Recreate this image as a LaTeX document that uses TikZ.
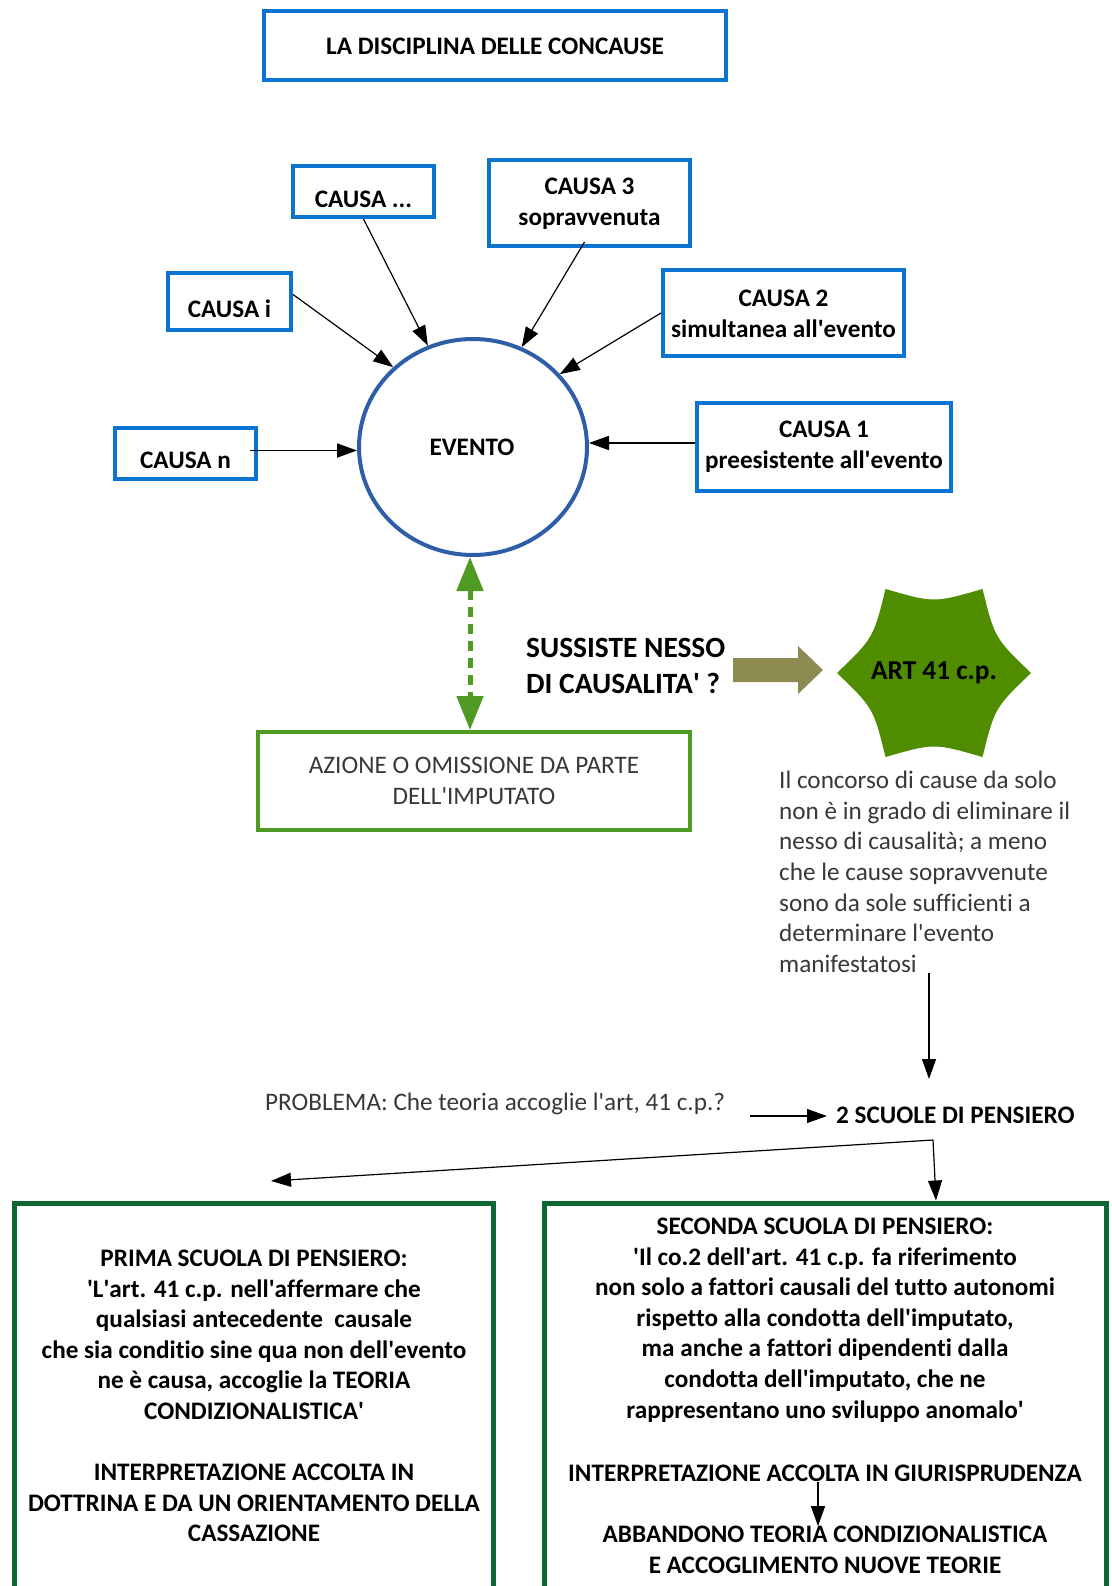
\documentclass[tikz,border=0pt]{standalone}
\usepackage{fontspec}
\setmainfont{Carlito}[Ligatures={TeX,NoCommon}]
\usetikzlibrary{shapes.geometric,arrows.meta,calc}
\definecolor{bbox}{HTML}{0A74D0}
\definecolor{evblue}{HTML}{2E5EA8}
\definecolor{lgreen}{HTML}{4E9A22}
\definecolor{olivec}{HTML}{8C8C52}
\definecolor{dgreen}{HTML}{0E6634}
\definecolor{stargreen}{HTML}{4F8C00}
\definecolor{txtgray}{HTML}{383838}
\newcommand{\sq}{\textquotesingle}
\newcommand{\fsn}{\fontsize{25.2}{30.6}\selectfont}
\begin{document}
\begin{tikzpicture}[x=1pt,y=-1pt,
  bluebox/.style={draw=bbox,line width=4pt,inner sep=0pt,anchor=center},
  btxt/.style={font=\bfseries\fsn,align=center,inner sep=0pt,anchor=center},
  ntxt/.style={font=\fsn,text=txtgray,inner sep=0pt},
  conn/.style={draw=black,line width=1.2pt,-{Triangle[length=20pt,width=14pt]}},
  gbox/.style={draw=dgreen,line width=5pt,inner sep=0pt,anchor=north},
]
\useasboundingbox[fill=white] (0,0) rectangle (1111,1586);

% title
\node[bluebox,minimum width=462,minimum height=69] (title) at (495,45.5) {};
\node[btxt] (titlet) at (495,46) {LA DISCIPLINA DELLE CONCAUSE};

% causes
\node[bluebox,minimum width=141,minimum height=51] (cdots) at (363.5,191.5) {};
\node[btxt] (cdotst) at (363.5,199) {CAUSA ...};
\node[bluebox,minimum width=201,minimum height=86] (c3) at (589.5,203) {};
\node[btxt] (c3t) at (589.5,203.5) {CAUSA 3\\sopravvenuta};
\node[bluebox,minimum width=123,minimum height=57] (ci) at (229.5,301.5) {};
\node[btxt] (cit) at (229.5,309) {CAUSA i};
\node[bluebox,minimum width=241,minimum height=86] (c2) at (783.5,313) {};
\node[btxt] (c2t) at (783.5,314) {CAUSA 2\\simultanea all\sq evento};
\node[bluebox,minimum width=141,minimum height=51] (cn) at (185.5,453.5) {};
\node[btxt] (cnt) at (185.5,460) {CAUSA n};
\node[bluebox,minimum width=254,minimum height=88] (c1) at (824,447) {};
\node[btxt] (c1t) at (824,446.5) {CAUSA 1\\preesistente all\sq evento};

% evento
\node[ellipse,draw=evblue,line width=4pt,minimum width=228,minimum height=216,inner sep=0pt] (ev) at (473,447) {};
\node[btxt] (evt) at (472,447) {EVENTO};

\draw[conn] (cdots.south) -- (ev.114);
\draw[conn] ($(c3.south)+(-5,-6)$) -- (ev.64);
\draw[conn] ($(ci.east)+(0,-7)$) -- (ev.135);
\draw[conn] (c2.west) -- (ev.40);
\draw[conn,line width=1.8pt] ($(cn.east)+(-8,-3)$) -- ($(cn.east -| ev.west)+(0,-3)$);
\draw[conn,line width=1.8pt] ($(c1.west)+(0,-4)$) -- ($(c1.west -| ev.east)+(0,-4)$);

% azione
\node[draw=lgreen,line width=4pt,minimum width=432,minimum height=98,inner sep=0pt] (az) at (474,781) {};
\node[ntxt,align=center] (azt) at (474,781) {AZIONE O OMISSIONE DA PARTE\\DELL\sq IMPUTATO};
\draw[draw=lgreen,line width=5pt,dash pattern=on 10pt off 7pt,
  {Triangle[length=34pt,width=26pt,fill=lgreen]}-{Triangle[length=34pt,width=26pt,fill=lgreen]}]
  ($(ev.south)+(-3,0)$) -- ($(az.north)+(-4,0)$);

% question
\node[font=\bfseries\fontsize{29.4}{36}\selectfont,align=left,inner sep=0pt,anchor=west] (q) at (526,666) {SUSSISTE NESSO\\DI CAUSALITA\sq{} ?};
\fill[olivec] (733,658) -- (798,658) -- (798,646) -- (823,670) -- (798,694) -- (798,682) -- (733,682) -- cycle;

% star
\coordinate (sc) at (934,673);
\fill[stargreen] ($(sc)+(0:97)$) .. controls ($(sc)+(30:70)$) .. ($(sc)+(60:97)$)
  .. controls ($(sc)+(90:70)$) .. ($(sc)+(120:97)$)
  .. controls ($(sc)+(150:70)$) .. ($(sc)+(180:97)$)
  .. controls ($(sc)+(210:70)$) .. ($(sc)+(240:97)$)
  .. controls ($(sc)+(270:70)$) .. ($(sc)+(300:97)$)
  .. controls ($(sc)+(330:70)$) .. ($(sc)+(0:97)$) -- cycle;
\node[font=\bfseries\fontsize{27.3}{30}\selectfont,inner sep=0pt] (art) at (934,673) {ART 41 c.p.};

% paragraph
\node[ntxt,align=left,anchor=north west] (para) at (779,771) {Il concorso di cause da solo\\non è in grado di eliminare il\\nesso di causalità; a meno\\che le cause sopravvenute\\sono da sole sufficienti a\\determinare l\sq evento\\manifestatosi};
\coordinate (pd) at (929,973);
\coordinate (pe) at (929,1079);
\draw[conn] (pd) -- (pe);

% problem
\node[ntxt,anchor=west] (prob) at (265,1104) {PROBLEMA: Che teoria accoglie l\sq art, 41 c.p.?};
\node[font=\bfseries\fsn,inner sep=0pt,anchor=west] (scuole) at (836,1115) {2 SCUOLE DI PENSIERO};
\draw[conn] ($(scuole.west)+(-86,1)$) -- ($(scuole.west)+(-9,1)$);

% bottom boxes
\node[gbox,minimum width=479,minimum height=500] (lbox) at (254,1200.5) {};
\node[gbox,minimum width=562,minimum height=500] (rbox) at (825.5,1200.5) {};
\coordinate (split) at (933,1140);
\coordinate (ltip) at (271,1181);
\draw[conn] (split) -- (ltip);
\draw[conn] (split) -- ($(split |- rbox.north)+(3,0)$);

\node[btxt] (lt) at (254,1396) {PRIMA SCUOLA DI PENSIERO:\\
\sq L\sq art. 41 c.p. nell\sq affermare che\\
qualsiasi antecedente\ \ causale\\
che sia conditio sine qua non dell\sq evento\\
ne è causa, accoglie la TEORIA\\
CONDIZIONALISTICA\sq\\[30.6pt]
INTERPRETAZIONE ACCOLTA IN\\
DOTTRINA E DA UN ORIENTAMENTO DELLA\\
CASSAZIONE};

\node[btxt] (rt) at (825,1320) {SECONDA SCUOLA DI PENSIERO:\\
\sq Il co.2 dell\sq art. 41 c.p. fa riferimento\\
non solo a fattori causali del tutto autonomi\\
rispetto alla condotta dell\sq imputato,\\
ma anche a fattori dipendenti dalla\\
condotta dell\sq imputato, che ne\\
rappresentano uno sviluppo anomalo\sq};
\node[btxt] (interp) at (825,1473) {INTERPRETAZIONE ACCOLTA IN GIURISPRUDENZA};
\node[btxt] (abb) at (825,1550) {ABBANDONO TEORIA CONDIZIONALISTICA\\E ACCOGLIMENTO NUOVE TEORIE};
\draw[conn] ($(interp.south)+(-7,0)$) -- ($(abb.north)+(-7,0)$);
\end{tikzpicture}
\end{document}
